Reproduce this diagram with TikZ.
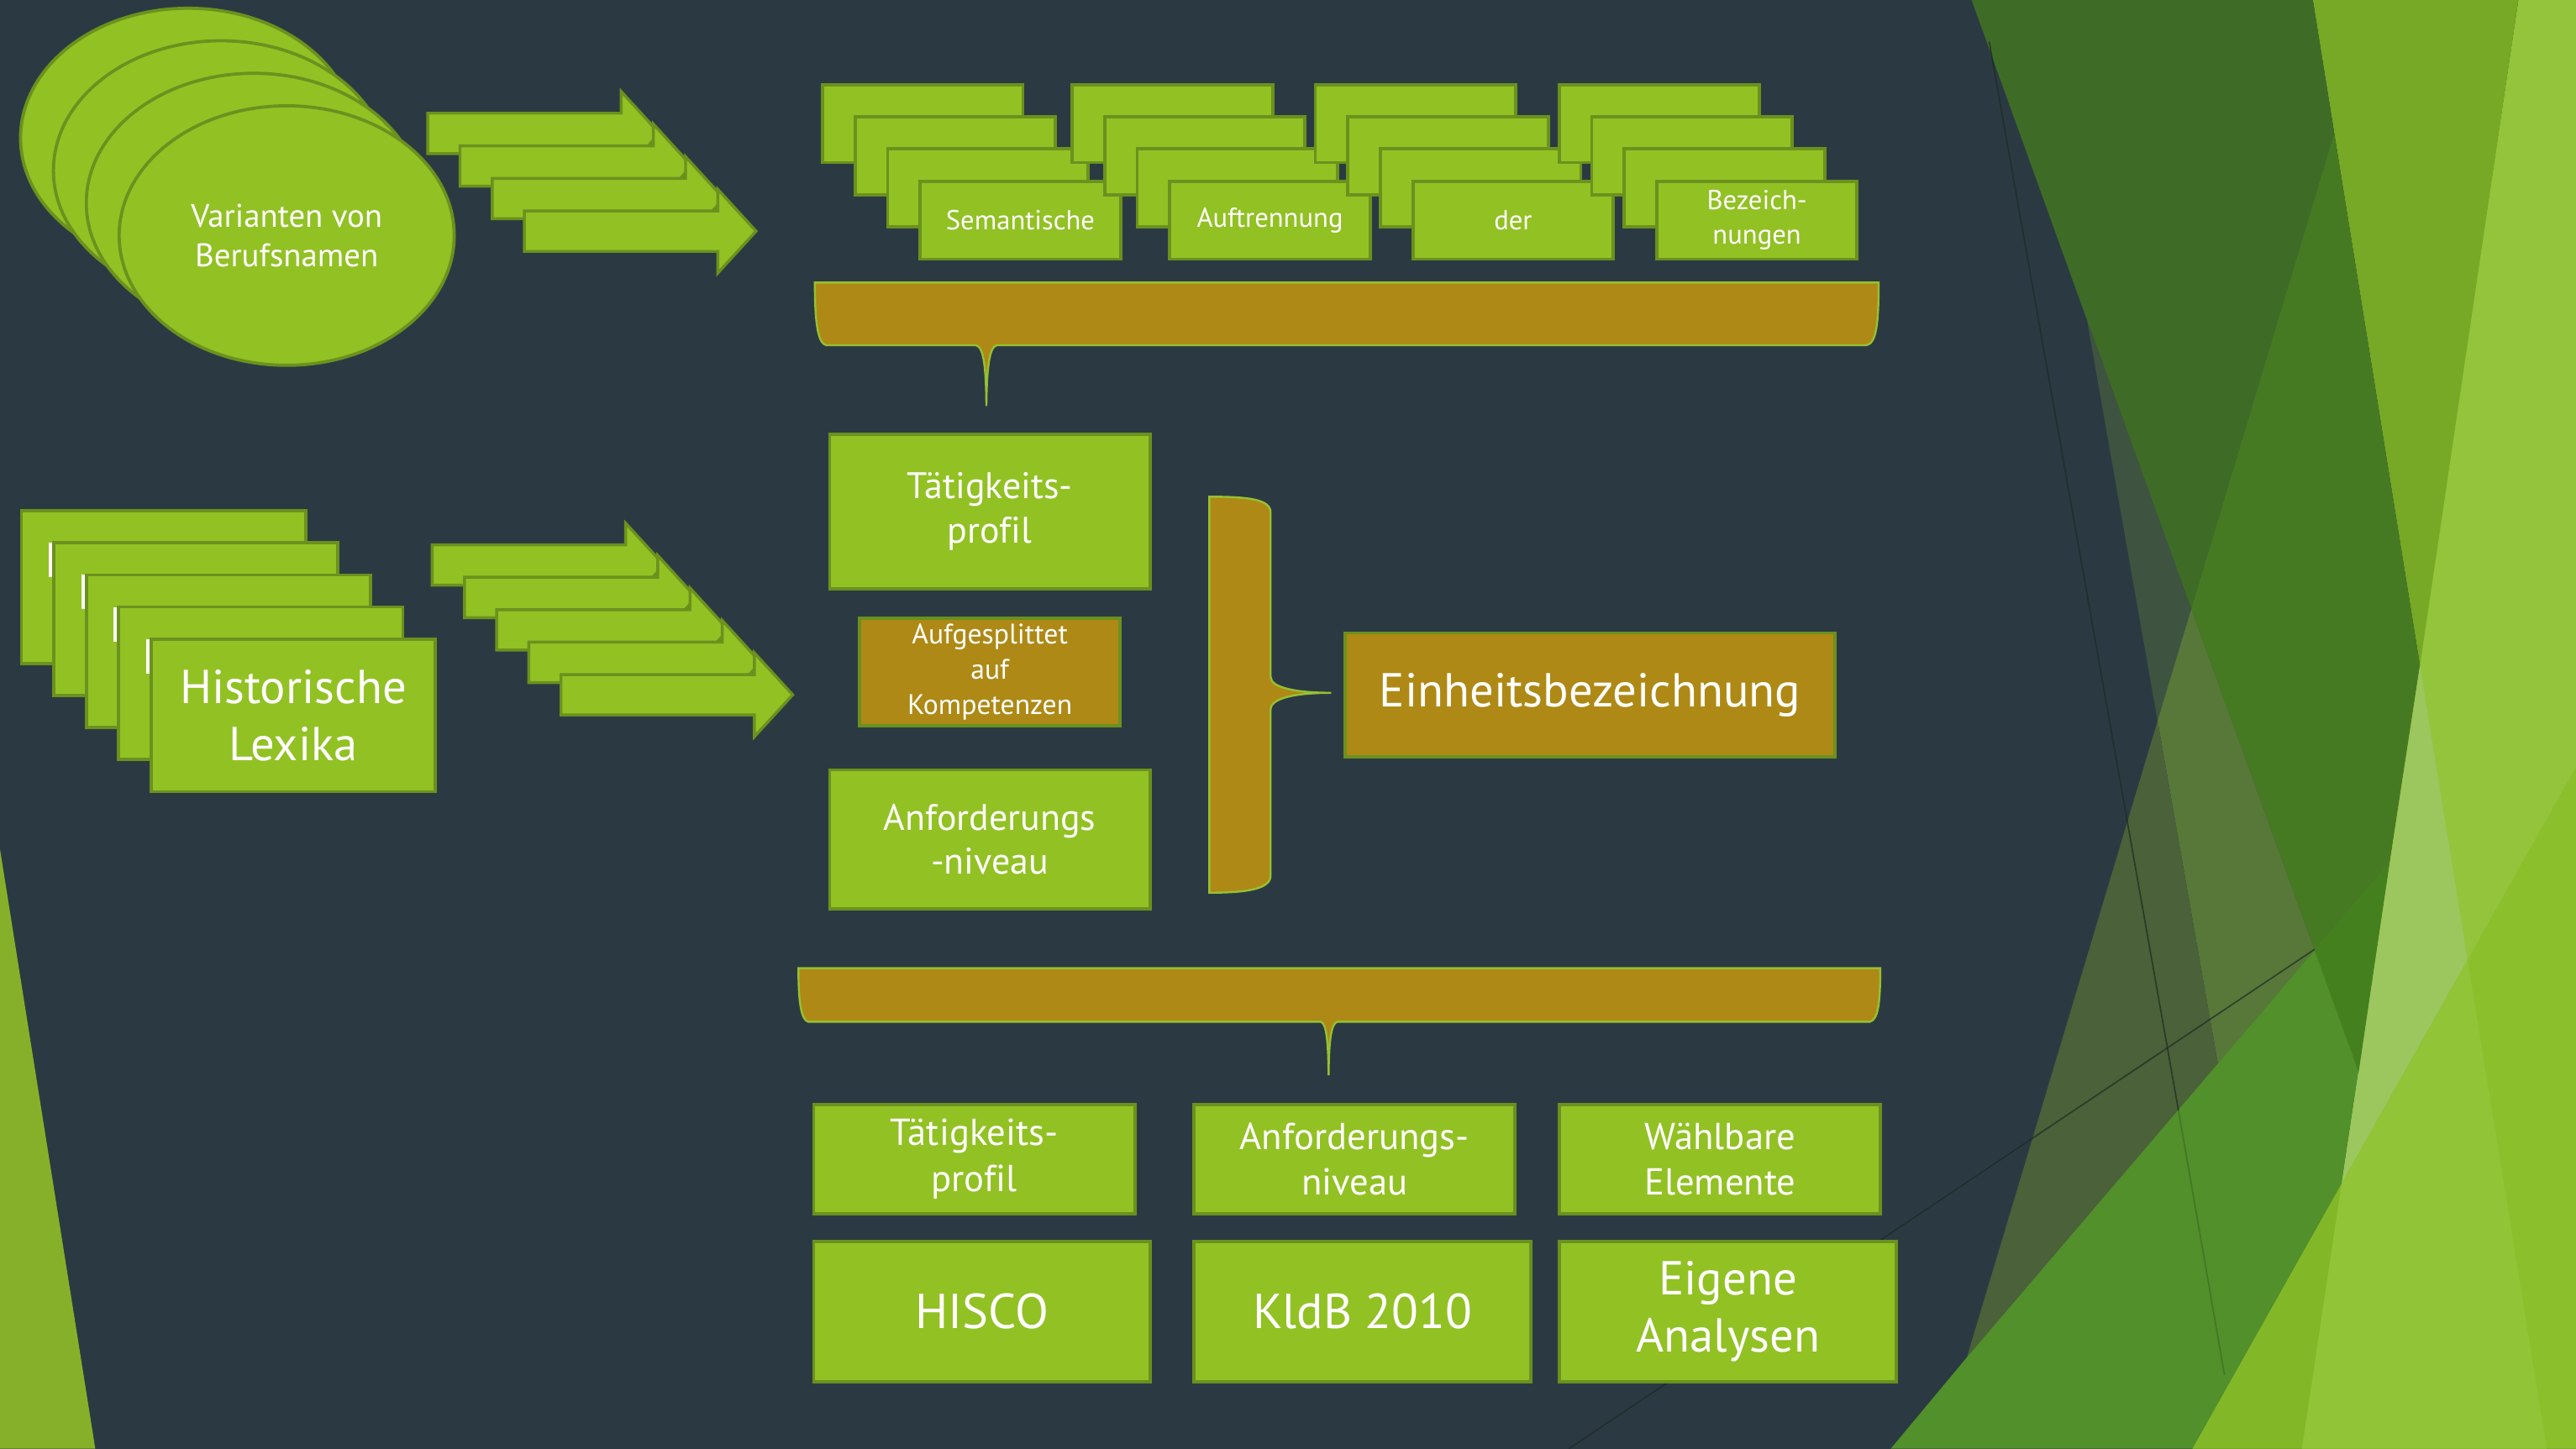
\documentclass[tikz,border=0pt]{standalone}
\usepackage{fontspec}
\setmainfont{PT Sans}[Ligatures=NoCommon]
\usetikzlibrary{shapes.geometric}

\definecolor{slate}{RGB}{43,58,66}
\definecolor{leaf}{RGB}{146,193,36}
\definecolor{leafdark}{RGB}{107,145,30}
\definecolor{ochre}{RGB}{174,137,21}
\definecolor{braceedge}{RGB}{150,192,50}
\definecolor{facetA}{RGB}{62,108,38}
\definecolor{facetB}{RGB}{119,168,38}
\definecolor{facetC}{RGB}{147,196,60}
\definecolor{facetD}{RGB}{70,122,34}
\definecolor{facetE}{RGB}{88,120,58}
\definecolor{facetF}{RGB}{74,97,57}
\definecolor{facetG}{RGB}{156,198,94}
\definecolor{facetH}{RGB}{81,144,42}
\definecolor{facetI}{RGB}{140,191,44}
\definecolor{facetK}{RGB}{146,196,56}
\definecolor{facetJ}{RGB}{134,176,42}
\definecolor{facetL}{RGB}{130,184,39}
\definecolor{facetM}{RGB}{62,84,64}
\definecolor{facetN}{RGB}{69,128,31}
\definecolor{seamcol}{RGB}{30,42,36}

\begin{document}
\begin{tikzpicture}[x=0.02cm, y=-0.02cm,
    box/.style={draw=leafdark, line width=1.1pt, fill=leaf, text=white, align=center, inner sep=0pt},
    goldbox/.style={box, fill=ochre},
    brace/.style={fill=ochre, draw=braceedge, line width=0.7pt},
    arrowshape/.style={fill=leaf, draw=leafdark, line width=1pt, line join=miter},
    seam/.style={draw=seamcol, line width=0.5pt, opacity=0.7}]
    %background
    \useasboundingbox (0,0) rectangle (1568,882);
    \fill[slate] (0,0) rectangle (1568,882);
    \fill[facetJ] (0,517) -- (58,882) -- (0,882) -- cycle;
    \fill[facetC] (1532.9,0) -- (1568,0) -- (1568,882) -- (1401.1,882) -- cycle;
    \fill[facetB] (1407.8,0) -- (1532.9,0) -- (1473.0,405.1) -- cycle;
    \fill[facetA] (1200.1,0) -- (1407.8,0) -- (1420.8,81) -- (1333.8,370.8) -- cycle;
    \fill[facetM] (1270.2,194.1) -- (1333.8,370.8) -- (1313.3,438.9) -- cycle;
    \fill[facetD] (1420.8,81) -- (1473.0,405.1) -- (1454.5,525) -- (1408.8,578.5) -- (1333.8,370.8) -- cycle;
    \fill[facetE] (1313.3,438.9) -- (1333.8,370.8) -- (1408.8,578.5) -- (1350.0,647.5) -- cycle;
    \fill[facetF] (1313.3,438.9) -- (1350.0,647.5) -- (1197.2,826.4) -- cycle;
    \fill[facetG] (1473.0,405.1) -- (1502.0,584.6) -- (1425.1,721.4) -- cycle;
    \fill[facetH] (1150.9,882) -- (1197.2,826.4) -- (1350,647.5) -- (1408.8,578.5) -- (1454.5,525) -- (1425.1,721.4) -- (1334.6,882) -- cycle;
    \fill[facetN] (1408.8,578.5) -- (1454.5,525) -- (1435.7,652.7) -- cycle;
    \fill[facetI] (1568,467) -- (1568,882) -- (1334.6,882) -- cycle;
    \fill[facetK] (1425.1,721.4) -- (1502.0,584.6) -- (1550.2,882) -- (1401.1,882) -- cycle;
    \fill[facetL] (1425.1,721.4) -- (1401.1,882) -- (1334.6,882) -- cycle;
    \draw[seam] (1408.8,578) -- (955,882);
    \draw[seam] (1210.8,25.3) -- (1326,676);
    \draw[seam, opacity=0.25] (1326,676) -- (1354,837);

    %names
    \foreach \k in {0,...,2}
        \node[box, ellipse, minimum width=4.08cm, minimum height=3.16cm] (name-\k) at (114.5+20*\k, 84+19.8*\k) {};
    \node[box, ellipse, minimum width=4.08cm, minimum height=3.16cm, font=\fontsize{11.3}{13.6}\selectfont] (names) at (174.5,143.4) {Varianten von\\Berufsnamen};
    \foreach \k in {0,...,3}
        \draw[arrowshape] ({260.4+19.6*\k},{81.2+19.85*\k-12.3}) -- ++(117.7,0) -- ++(0,-13.2) -- ++(23.3,25.5) -- ++(-23.3,25.5) -- ++(0,-13.2) -- ++(-117.7,0) -- cycle;

    %lexika
    \foreach \k in {0,...,3}{
        \node[box, minimum width=3.46cm, minimum height=1.86cm] (lex-\k) at (99.5+19.75*\k, 357.5+19.5*\k) {};
        \fill[white] (29.7+19.75*\k, 330.5+19.5*\k) rectangle ++(2.5,21);
    }
    \node[box, minimum width=3.46cm, minimum height=1.86cm, font=\fontsize{16.5}{19.8}\selectfont] (lexika) at (178.5,435.5) {Historische\\Lexika};
    \foreach \k in {0,...,4}
        \draw[arrowshape] ({263.1+19.6*\k},{344+19.75*\k-12.3}) -- ++(117.7,0) -- ++(0,-13.2) -- ++(23.3,25.5) -- ++(-23.3,25.5) -- ++(0,-13.2) -- ++(-117.7,0) -- cycle;

    %semantic split
    \foreach \cx/\word [count=\c] in {561.7/Semantische, 713.6/Auftrennung, 861.6/der, 1010/{Bezeich-\\nungen}}{
        \foreach \k in {0,...,2}
            \node[box, minimum width=2.44cm, minimum height=0.95cm] (card-\c-\k) at (\cx+19.8*\k, 75.25+19.6*\k) {};
        \node[box, minimum width=2.44cm, minimum height=0.95cm, font=\fontsize{9.5}{12}\selectfont] (card-\c) at (\cx+59.4, 134.05) {\word};
    }
    \draw[brace] (496,172) -- (1143.5,172) .. controls (1143.5,198) and (1142,209) .. (1136,210.2) -- (606.8,210.2) .. controls (602,211) and (600.6,225) .. (600.4,247.2) .. controls (600.2,225) and (599,211) .. (594,210.2) -- (503,210.2) .. controls (498,209) and (496,198) .. (496,172) -- cycle;

    %unit name
    \node[box, minimum width=3.9cm, minimum height=1.88cm, font=\fontsize{12.8}{15.3}\selectfont] (profil) at (602.5,311.5) {Tätigkeits-\\profil};
    \node[goldbox, minimum width=3.17cm, minimum height=1.31cm, font=\fontsize{9.8}{12.3}\selectfont] (split) at (602.5,409) {Aufgesplittet\\auf\\Kompetenzen};
    \node[box, minimum width=3.9cm, minimum height=1.69cm, font=\fontsize{12.8}{15.3}\selectfont] (niveau) at (602.5,511) {Anforderungs\\-niveau};
    \draw[brace] (736.1,302.4) .. controls (760,302.4) and (773.4,304) .. (773.4,312) -- (773.4,412) .. controls (773.4,419) and (790,421.8) .. (810.3,421.8) .. controls (790,421.8) and (773.4,424.6) .. (773.4,432) -- (773.4,533) .. controls (773.4,541) and (760,543.5) .. (736.1,543.5) -- cycle;
    \node[goldbox, minimum width=5.96cm, minimum height=1.51cm, font=\fontsize{16.5}{19.8}\selectfont] (einheit) at (967.9,423.1) {Einheitsbezeichnung};

    %classifications
    \draw[brace] (486,589.5) -- (1144.5,589.5) .. controls (1144.5,612) and (1143,621) .. (1138,622.1) -- (814,622.1) .. controls (810,623) and (808.9,635) .. (808.7,654.7) .. controls (808.5,635) and (807.5,623) .. (804,622.1) -- (492,622.1) .. controls (488,621) and (486,612) .. (486,589.5) -- cycle;
    \node[box, minimum width=3.91cm, minimum height=1.33cm, font=\fontsize{13}{15.9}\selectfont] (profil2) at (593,705.7) {Tätigkeits-\\profil};
    \node[box, minimum width=3.91cm, minimum height=1.33cm, font=\fontsize{13}{15.9}\selectfont] (niveau2) at (824.5,705.7) {Anforderungs-\\niveau};
    \node[box, minimum width=3.91cm, minimum height=1.33cm, font=\fontsize{13}{15.9}\selectfont] (wahl) at (1047,705.7) {Wählbare\\Elemente};
    \node[box, minimum width=4.1cm, minimum height=1.71cm, font=\fontsize{17}{19.8}\selectfont] (hisco) at (597.8,798.5) {HISCO};
    \node[box, minimum width=4.1cm, minimum height=1.71cm, font=\fontsize{17}{19.8}\selectfont] (kldb) at (829.3,798.5) {KldB 2010};
    \node[box, minimum width=4.1cm, minimum height=1.71cm, font=\fontsize{16.5}{19.8}\selectfont] (eigene) at (1051.8,798.5) {Eigene\\Analysen};
\end{tikzpicture}
\end{document}
